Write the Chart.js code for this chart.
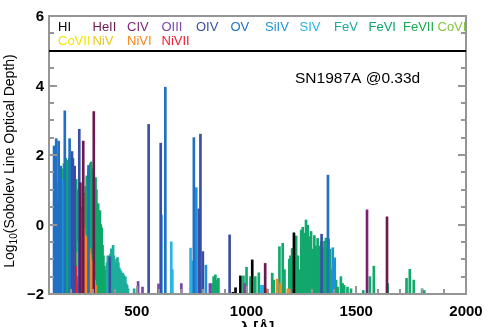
<!DOCTYPE html>
<html>
<head>
<meta charset="utf-8">
<script src="https://cdn.jsdelivr.net/npm/chart.js@4/dist/chart.umd.min.js"></script>
<style>
  body { margin: 0; background: #fff; }
  #wrap { width: 491px; height: 327px; }
</style>
</head>
<body>
<div id="wrap"><canvas id="myChart"></canvas></div>
<script>
// line lists: wavelength (Angstrom) and log10 Sobolev optical depth
const hiWave = [938, 950, 972, 1026, 1216];
const hiDepth = [-1.95, -1.82, -1.48, -1.02, -0.24];

const heiiWave = [243, 256, 304, 1085, 1640];
const heiiDepth = [1.2, 2.4, 3.25, -1.12, 0.22];

const civWave = [1549];
const civDepth = [0.42];

const oiiiWave = [506, 526, 599, 703, 833, 991];
const oiiiDepth = [-1.64, -1.8, -1.71, -1.7, -1.7, -1.7];

const ovWave = [123, 133, 144, 153, 172, 194, 280, 630, 760, 1371];
const ovDepth = [2.26, 2.47, 2.4, 1.68, 3.27, 2.47, 1.7, 3.95, 2.5, 1.42];

const oivWave = [205, 209, 217, 238, 377, 554, 609, 783, 790, 801, 923, 1342];
const oivDepth = [2.1, 1.9, 1.68, 2.74, -0.93, 2.88, 2.34, 0.45, 2.6, -0.78, -0.3, -0.28];

const siivWave = [162, 612, 771, 815, 1393, 1402];
const siivDepth = [1.3, 0.27, 1.06, -1.17, -0.67, -0.96];

const sivWave = [657, 662, 745, 750, 1067, 1076];
const sivDepth = [-0.5, -1.3, -0.68, -1.05, -1.75, -1.75];

const niviiWave = [205, 209, 213, 217, 221, 225, 229];
const niviiDepth = [-1.3, -1.0, -0.93, -1.0, -1.2, -1.5, -1.7];

const niviWave = [232, 236, 240, 244, 248, 252, 256, 260, 264, 268, 272, 276, 280, 284, 288, 292, 296, 300, 304, 308, 312, 1089, 1139, 1155, 1188];
const niviDepth = [-0.8, -0.5, -0.55, -0.3, -0.2, 0.3, 0.85, -0.1, -0.3, -0.4, -0.35, -0.5, -0.6, -0.7, -0.85, -1.0, -1.1, -1.3, -1.5, -1.6, -1.75, -1.85, -1.57, -1.7, -1.85];

const fevWave = [356, 360, 364, 368, 372, 376, 380, 384, 388, 392, 396, 400, 404, 408, 412, 416, 420, 424, 428, 432, 436, 440, 444, 448, 452, 456, 460, 488];
const fevDepth = [-1.7, -1.3, -1.1, -0.9, -1.2, -1.0, -0.85, -0.7, -0.8, -0.6, -0.9, -1.2, -1.1, -1.0, -0.95, -1.1, -1.25, -1.3, -1.35, -1.5, -1.4, -1.45, -1.6, -1.5, -1.7, -1.75, -1.85, -1.85];

// FeVI, short wavelength blend
const fevidWave = [140, 144, 148, 152, 156, 160, 164, 168, 172, 176, 180, 184, 188, 192, 196, 200, 204, 208, 212, 216, 220, 224, 228, 232, 236, 240, 244, 248, 252, 256, 260, 264, 268, 272, 276, 280, 284, 288, 292, 296, 300, 304, 308, 312, 316, 320, 324, 328, 332, 336, 340, 344, 348, 352];
const fevidDepth = [0.6, 1.2, 1.0, 1.5, 1.3, 1.6, 1.4, 1.75, 1.5, 1.9, 1.7, 1.85, 1.6, 1.9, 1.7, 1.8, 1.5, 1.6, 1.3, 1.45, 1.1, 1.3, 0.9, 1.0, 0.6, 0.8, 0.3, 0.5, 0.0, 0.3, 0.6, 0.9, 1.1, 1.4, 1.2, 1.6, 1.5, 1.75, 1.8, 1.6, 1.5, 1.4, 1.2, 1.35, 1.0, 0.45, 0.6, 0.3, 0.4, 0.0, -0.1, -0.6, -0.9, -1.2];

const feviWave = [841, 850, 858, 866, 872, 986, 1000, 1018, 1040, 1056, 1117, 1124, 1150, 1165, 1173, 1195, 1200, 1208, 1220, 1226, 1233, 1241, 1249, 1256, 1264, 1271, 1279, 1286, 1294, 1301, 1309, 1317, 1324, 1332, 1340, 1347, 1355, 1362, 1367, 1374, 1380, 1386, 1408, 1415, 1430, 1438, 1445, 1460, 1476, 1532, 1562, 1580, 1643, 1729, 1744, 1762, 1800, 1810];
const feviDepth = [-1.7, -1.5, -1.45, -1.6, -1.55, -1.48, -1.23, -1.5, -1.5, -1.39, -1.4, -1.6, -0.64, -0.54, -1.3, -1.0, -0.9, -0.69, -0.62, -0.33, -0.9, -1.3, -0.16, -0.08, -0.25, 0.13, -0.02, -0.35, -0.2, -0.71, -0.32, -0.62, -0.4, -0.62, -0.5, -0.67, -0.48, -0.39, -0.6, -0.42, -0.71, -1.3, -1.6, -1.8, -1.5, -1.7, -1.75, -1.8, -1.85, -1.9, -1.5, -1.2, -1.7, -1.55, -1.29, -1.6, -1.85, -1.9];

// legend rows
const legendTop = ["HI", "HeII", "CIV", "OIII", "OIV", "OV", "SiIV", "SIV", "FeV", "FeVI", "FeVII", "CoVI"];
const legendTopColors = ["#000000", "#6b1a4f", "#7d1f78", "#7a45a8", "#3a4ea6", "#2170c4", "#1e92d8", "#2ab3e6", "#1aa898", "#0ea36c", "#17a94f", "#86c440"];
const legendBottom = ["CoVII", "NiV", "NiVI", "NiVII"];
const legendBottomColors = ["#f2e600", "#ecc81a", "#f7891e", "#ee1c2e"];

const yTicks = [-2, 0, 2, 4, 6];
const xTicks = [500, 1000, 1500, 2000];

const FONT = "'Liberation Sans', Arial, sans-serif";

function lines(wave, depth) {
  return wave.map((w, i) => ({ x: w, y: [-2, depth[i]] }));
}

function ds(label, wave, depth, color) {
  return {
    label: label,
    data: lines(wave, depth),
    backgroundColor: color,
    borderWidth: 0,
    barThickness: 2,
    grouped: false
  };
}

// first dataset is drawn on top
const datasets = [
  ds("HI", hiWave, hiDepth, "#000000"),
  ds("HeII", heiiWave, heiiDepth, "#6b1a4f"),
  ds("CIV", civWave, civDepth, "#7d1f78"),
  ds("OIII", oiiiWave, oiiiDepth, "#7a45a8"),
  ds("OV", ovWave, ovDepth, "#2170c4"),
  ds("OIV", oivWave, oivDepth, "#3a4ea6"),
  ds("SiIV", siivWave, siivDepth, "#1e92d8"),
  ds("SIV", sivWave, sivDepth, "#2ab3e6"),
  ds("NiVII", niviiWave, niviiDepth, "#ee1c2e"),
  ds("NiVI", niviWave, niviDepth, "#f7891e"),
  ds("FeVI", fevidWave, fevidDepth, "#0ea86a"),
  ds("FeVI", feviWave, feviDepth, "#12a86c"),
  ds("FeV", fevWave, fevDepth, "#1cae9c")
];

const frameAndText = {
  id: "frameAndText",
  afterDraw(chart) {
    const ctx = chart.ctx;
    const a = chart.chartArea;
    const xs = chart.scales.x;
    const ys = chart.scales.y;
    const L = Math.round(a.left), R = Math.round(a.right);
    const T = Math.round(a.top), B = Math.round(a.bottom);
    ctx.save();

    // frame and inward ticks, IDL style
    ctx.fillStyle = "#959595";
    ctx.fillRect(L - 1, T - 1, R - L + 2, 2);
    ctx.fillRect(L - 1, B - 1, R - L + 2, 2);
    ctx.fillRect(L - 1, T - 1, 2, B - T + 2);
    ctx.fillRect(R - 1, T - 1, 2, B - T + 2);
    for (let v = -2; v <= 6; v += 0.5) {
      const py = Math.round(ys.getPixelForValue(v));
      const len = v % 2 === 0 ? 8 : 5;
      ctx.fillRect(L, py - 1, len, 2);
      ctx.fillRect(R - len, py - 1, len, 2);
    }
    for (let v = 200; v < 2000; v += 100) {
      const px = Math.round(xs.getPixelForValue(v));
      const len = v % 500 === 0 ? 8 : 5;
      ctx.fillRect(px - 1, B - len, 2, len);
    }

    // tick labels
    ctx.fillStyle = "#000";
    ctx.font = "bold 15px " + FONT;
    ctx.textAlign = "right";
    ctx.textBaseline = "middle";
    yTicks.forEach(v => {
      const t = v < 0 ? "\u2212" + Math.abs(v) : String(v);
      ctx.fillText(t, L - 5, ys.getPixelForValue(v) + 1);
    });
    ctx.textAlign = "center";
    ctx.textBaseline = "alphabetic";
    xTicks.forEach(v => {
      ctx.fillText(String(v), xs.getPixelForValue(v), 316);
    });

    // separator line at 5
    const y5 = Math.round(ys.getPixelForValue(5));
    ctx.fillStyle = "#000";
    ctx.fillRect(L, y5 - 1, R - L, 2);

    // legend
    ctx.font = "13px " + FONT;
    ctx.textAlign = "left";
    legendTop.forEach((t, i) => {
      ctx.fillStyle = legendTopColors[i];
      ctx.fillText(t, L + 9 + i * 34.5, 31);
    });
    legendBottom.forEach((t, i) => {
      ctx.fillStyle = legendBottomColors[i];
      ctx.fillText(t, L + 9 + i * 34.5, 45);
    });

    // label
    ctx.fillStyle = "#000";
    ctx.font = "15.5px " + FONT;
    ctx.fillText("SN1987A @0.33d", 295, 83);

    // y title with subscript
    ctx.save();
    ctx.translate(14, 161);
    ctx.rotate(-Math.PI / 2);
    const big = "14px " + FONT;
    const small = "10px " + FONT;
    const rest = "(Sobolev Line Optical Depth)";
    ctx.font = big;
    const w1 = ctx.measureText("Log").width;
    const w3 = ctx.measureText(rest).width;
    ctx.font = small;
    const w2 = ctx.measureText("10").width;
    const x0 = -(w1 + w2 + w3) / 2;
    ctx.font = big;
    ctx.fillText("Log", x0, 0);
    ctx.font = small;
    ctx.fillText("10", x0 + w1, 3);
    ctx.font = big;
    ctx.fillText(rest, x0 + w1 + w2, 0);
    ctx.restore();

    // x title
    ctx.font = "bold 15px " + FONT;
    ctx.textAlign = "center";
    ctx.fillText("\u03bb [\u00c5]", (L + R) / 2, 332);

    ctx.restore();
  }
};

new Chart(document.getElementById("myChart"), {
  type: "bar",
  data: { datasets: datasets },
  plugins: [frameAndText],
  options: {
    responsive: true,
    maintainAspectRatio: false,
    animation: false,
    layout: { padding: { top: 16, right: 25, left: 0, bottom: 0 } },
    plugins: {
      legend: { display: false },
      tooltip: { enabled: false }
    },
    scales: {
      x: {
        type: "linear",
        min: 100,
        max: 2000,
        offset: false,
        grid: { display: false, offset: false },
        border: { display: false },
        ticks: { display: false },
        afterFit: (s) => { s.height = 33; }
      },
      y: {
        min: -2,
        max: 6,
        grid: { display: false },
        border: { display: false },
        ticks: { display: false },
        afterFit: (s) => { s.width = 49; }
      }
    }
  }
});
</script>
</body>
</html>
